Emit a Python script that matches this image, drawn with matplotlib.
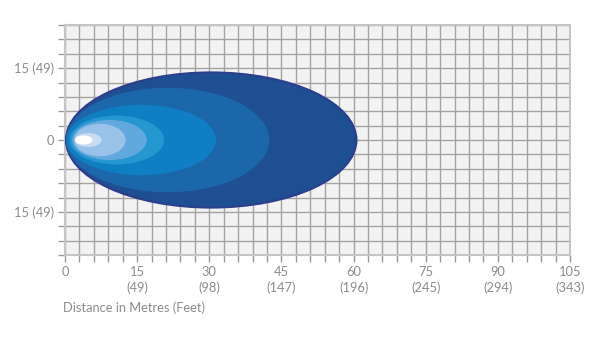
import matplotlib
matplotlib.use("Agg")
import matplotlib.pyplot as plt
from matplotlib.patches import Ellipse
import numpy as np

# beam zones, outermost first (metres)
zone_start = [0.2, 0.2, 0.3, 1.0, 1.5, 1.9, 2.0, 2.1]
zone_end = [60.6, 42.5, 31.4, 20.6, 17.0, 12.6, 7.6, 5.7]
zone_half = [14.1, 10.9, 7.35, 5.1, 4.2, 3.4, 1.46, 0.97]
zone_colors = ["#1e4f92", "#1b67aa", "#0f7ec2", "#2696d0", "#61a8dc", "#99c2e8", "#c8dcf2", "#ffffff"]

x_ticks = [0, 15, 30, 45, 60, 75, 90, 105]
x_labels = ["0", "15\n(49)", "30\n(98)", "45\n(147)", "60\n(196)", "75\n(245)", "90\n(294)", "105\n(343)"]
y_ticks = [-15, 0, 15]
y_labels = ["15 (49)", "0", "15 (49)"]

plt.rcParams['font.family'] = ['Lato', 'DejaVu Sans']
txt = "#8c8c8c"

fig = plt.figure(figsize=(6, 3.39), dpi=100)
ax = fig.add_axes([65/600, 1-255/339, 505/600, 230/339])
ax.set_facecolor("#f2f2f3")

for i in range(len(zone_end)):
    w = zone_end[i] - zone_start[i]
    e = Ellipse(((zone_start[i]+zone_end[i])/2, 0), w, 2*zone_half[i],
                facecolor=zone_colors[i], edgecolor="#2c3e8c" if i == 0 else "none",
                lw=1.5 if i == 0 else 0, zorder=3)
    ax.add_patch(e)

ax.set_xlim(0, 105)
ax.set_ylim(-24, 24)
ax.set_xticks(x_ticks)
ax.set_xticklabels(x_labels, color=txt, fontsize=9.3, linespacing=1.3)
ax.set_yticks(y_ticks)
ax.set_yticklabels(y_labels, color=txt, fontsize=9.3)
ax.set_xticks(np.arange(0, 106, 3), minor=True)
ax.set_yticks(np.arange(-24, 25, 3), minor=True)
ax.tick_params(which="both", length=5, width=1, color="#9a9a9a", pad=3)
ax.grid(which="both", color="#a3a3a3", lw=1.0)
ax.set_axisbelow(True)
for s in ax.spines.values():
    s.set_color("#c4c4c4")
    s.set_linewidth(1.5)

fig.text(63/600, 1-308/339, "Distance in Metres (Feet)", color=txt, fontsize=9.3, va="center", ha="left")

fig.savefig("out.png", dpi=100)
